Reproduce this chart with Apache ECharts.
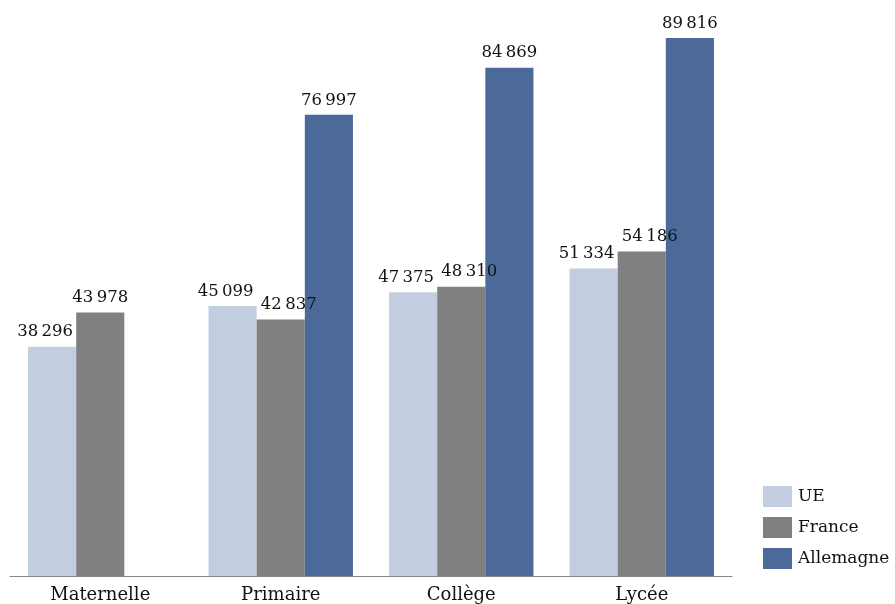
<!DOCTYPE html>
<html>
<head>
<meta charset="utf-8">
<script src="https://cdn.jsdelivr.net/npm/echarts@6/dist/echarts.min.js"></script>
<style>
html,body{margin:0;padding:0;background:#fff;}
#chart{width:895px;height:604px;}
</style>
</head>
<body>
<div id="chart"></div>
<script>
var categories = ['Maternelle', 'Primaire', 'Collège', 'Lycée'];
var seriesNames = ['UE', 'France', 'Allemagne'];
var ueValues = [38296, 45099, 47375, 51334];
var franceValues = [43978, 42837, 48310, 54186];
var allemagneValues = [null, 76997, 84869, 89816];

var colors = ['#c3cde0', '#808080', '#4b6a9a'];
var FONT = '"DejaVu Serif", serif';

function fmt(v) {
  var s = String(Math.round(v));
  return s.replace(/\B(?=(\d{3})+(?!\d))/g, '\u2009');
}

var labelShift = [-7, 8, 0];

function buildSeries(idx, values) {
  return {
    name: seriesNames[idx],
    type: 'bar',
    barGap: '0%',
    barCategoryGap: '20%',
    itemStyle: { color: colors[idx] },
    label: {
      show: true,
      position: 'top',
      distance: 6,
      offset: [labelShift[idx], 0],
      fontFamily: FONT,
      fontSize: 16.5,
      color: '#111',
      formatter: function (p) { return fmt(p.value); }
    },
    data: values.map(function (v, i) {
      if (v === null) return '-';
      if (idx === 1 && i === 0) return { value: v, label: { offset: [0, 0] } };
      return v;
    })
  };
}

var chart = echarts.init(document.getElementById('chart'), null, { renderer: 'canvas' });
chart.setOption({
  animation: false,
  backgroundColor: '#ffffff',
  grid: { left: 10, right: 163, top: 7, bottom: 26, containLabel: false },
  legend: {
    orient: 'vertical',
    left: 763,
    top: 486,
    padding: 0,
    itemWidth: 29,
    itemHeight: 21,
    itemGap: 10,
    icon: 'rect',
    textStyle: { fontFamily: FONT, fontSize: 17, color: '#111', padding: [0, 0, 0, 1] },
    data: seriesNames
  },
  xAxis: {
    type: 'category',
    data: categories,
    axisLine: { show: true, lineStyle: { color: '#868686', width: 1 } },
    axisTick: { show: false },
    axisLabel: { fontFamily: FONT, fontSize: 18, color: '#111', margin: 10 }
  },
  yAxis: {
    type: 'value',
    min: 0,
    max: 95000,
    show: false,
    splitLine: { show: false }
  },
  series: [
    buildSeries(0, ueValues),
    buildSeries(1, franceValues),
    buildSeries(2, allemagneValues)
  ]
});
</script>
</body>
</html>
